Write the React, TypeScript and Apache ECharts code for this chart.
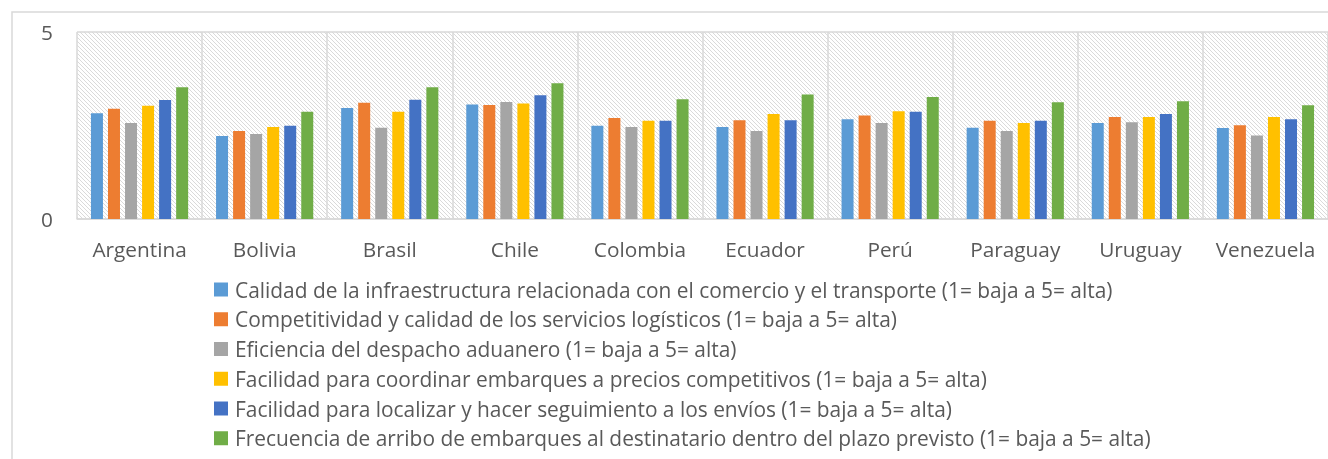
import React, { useEffect, useRef } from "react";
import * as echarts from "echarts";

const countries = ["Argentina", "Bolivia", "Brasil", "Chile", "Colombia", "Ecuador", "Perú", "Paraguay", "Uruguay", "Venezuela"];

const seriesNames = [
  "Calidad de la infraestructura relacionada con el comercio y el transporte (1= baja a 5= alta)",
  "Competitividad y calidad de los servicios logísticos (1= baja a 5= alta)",
  "Eficiencia del despacho aduanero (1= baja a 5= alta)",
  "Facilidad para coordinar embarques a precios competitivos (1= baja a 5= alta)",
  "Facilidad para localizar y hacer seguimiento a los envíos (1= baja a 5= alta)",
  "Frecuencia de arribo de embarques al destinatario dentro del plazo previsto (1= baja a 5= alta)",
];

const infraestructura = [2.83, 2.22, 2.97, 3.06, 2.49, 2.46, 2.67, 2.44, 2.57, 2.43];
const serviciosLogisticos = [2.95, 2.35, 3.11, 3.05, 2.70, 2.64, 2.77, 2.63, 2.73, 2.51];
const despachoAduanero = [2.57, 2.27, 2.44, 3.13, 2.46, 2.35, 2.57, 2.35, 2.59, 2.23];
const coordinarEmbarques = [3.03, 2.46, 2.87, 3.09, 2.63, 2.81, 2.88, 2.57, 2.73, 2.73];
const seguimientoEnvios = [3.18, 2.49, 3.19, 3.31, 2.63, 2.64, 2.87, 2.63, 2.81, 2.67];
const frecuenciaArribo = [3.52, 2.87, 3.52, 3.63, 3.20, 3.33, 3.26, 3.12, 3.15, 3.04];

const yTicks = [0, 5];

const colors = ["#5B9BD5", "#ED7D31", "#A5A5A5", "#FFC000", "#4472C4", "#70AD47"];

function makeHatch(): string {
  const c = document.createElement("canvas");
  c.width = 4;
  c.height = 4;
  const ctx = c.getContext("2d");
  if (ctx) {
    ctx.fillStyle = "#ffffff";
    ctx.fillRect(0, 0, 4, 4);
    ctx.fillStyle = "#dadada";
    for (let i = 0; i < 4; i++) ctx.fillRect(i, i, 1, 1);
  }
  return c.toDataURL();
}

export default function App() {
  const ref = useRef<HTMLDivElement>(null);
  useEffect(() => {
    if (!ref.current) return;
    const chart = echarts.init(ref.current, undefined, { renderer: "svg" });
    const data = [infraestructura, serviciosLogisticos, despachoAduanero, coordinarEmbarques, seguimientoEnvios, frecuenciaArribo];
    const font = "'Open Sans', Lato, sans-serif";
    chart.setOption({
      animation: false,
      color: colors,
      textStyle: { fontFamily: font },
      graphic: [
        {
          type: "rect",
          shape: { x: 12, y: 12, width: 1340, height: 500 },
          style: { fill: "none", stroke: "#d9d9d9", lineWidth: 1.5 },
          silent: true,
        },
      ],
      grid: {
        left: 77,
        top: 32,
        right: -6,
        bottom: 240,
        show: true,
        borderWidth: 0,
        backgroundColor: { image: makeHatch(), repeat: "repeat", imageWidth: 4, imageHeight: 4 },
      },
      legend: {
        orient: "vertical",
        left: 214,
        top: 279,
        padding: 0,
        itemWidth: 14,
        itemHeight: 14,
        itemGap: 8.75,
        icon: "rect",
        textStyle: { fontFamily: font, fontSize: 20.9, color: "#595959", lineHeight: 20, padding: [0, 0, 0, 2] },
        data: seriesNames,
      },
      xAxis: {
        type: "category",
        data: countries,
        axisTick: { show: false },
        axisLine: { lineStyle: { color: "#d9d9d9", width: 1.5 } },
        splitLine: { show: true, interval: 0, lineStyle: { color: "#d9d9d9", width: 1.5 } },
        axisLabel: { color: "#595959", fontSize: 20.8, margin: 19, interval: 0, fontFamily: font },
      },
      yAxis: {
        type: "value",
        min: yTicks[0],
        max: yTicks[yTicks.length - 1],
        interval: 5,
        axisLine: { show: false },
        axisTick: { show: false },
        splitLine: { show: true, lineStyle: { color: "#d9d9d9", width: 1.5 } },
        axisLabel: { color: "#595959", fontSize: 20.8, margin: 24, fontFamily: font },
      },
      series: seriesNames.map((name, i) => ({
        name,
        type: "bar",
        data: data[i],
        barWidth: 12,
        barGap: "42%",
        itemStyle: { color: colors[i] },
      })),
    });
    return () => chart.dispose();
  }, []);
  return <div ref={ref} style={{ position: "fixed", left: 0, top: 0, width: 1328, height: 459 }} />;
}
